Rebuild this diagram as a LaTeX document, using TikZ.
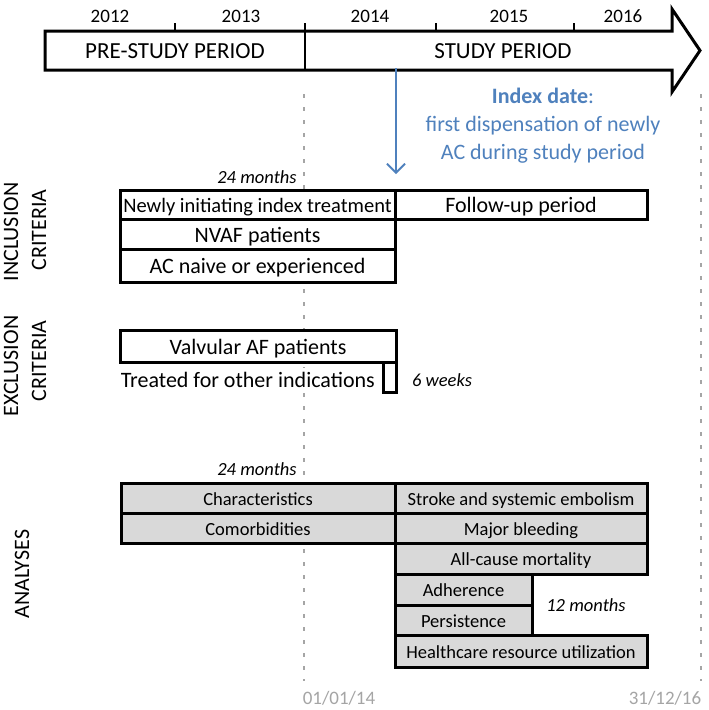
\documentclass[tikz,border=0pt]{standalone}
\usepackage{fontspec}
\setmainfont{Carlito}
\usetikzlibrary{arrows.meta}
\definecolor{idxblue}{RGB}{79,129,189}
\definecolor{boxgray}{RGB}{217,217,217}
\definecolor{dategray}{RGB}{165,165,165}
\begin{document}
\begin{tikzpicture}[x=1pt,y=-1pt,
  cell/.style={draw=black, fill=white, line width=3pt, inner sep=0pt, outer sep=0pt,
    anchor=north west, text height=17pt, text depth=1pt,
    font=\fontsize{22}{26}\selectfont},
  acell/.style={cell, fill=boxgray, text height=14.5pt, text depth=0.5pt, font=\fontsize{18.5}{22}\selectfont},
  note/.style={inner sep=1pt, font=\fontsize{18.5}{22}\selectfont\itshape},
  side/.style={rotate=90, inner sep=0pt, font=\fontsize{22}{26}\selectfont},
  datelbl/.style={text=dategray, inner sep=0pt, font=\fontsize{19}{22}\selectfont},
  guide/.style={draw=dategray, line width=2pt, dash pattern=on 4pt off 9pt},
  yearlbl/.style={inner sep=0pt, font=\fontsize{19}{22}\selectfont},
  period/.style={inner sep=0pt, text height=17pt, text depth=1pt, font=\fontsize{23}{27}\selectfont},
  tick/.style={line width=1.3pt}]
\useasboundingbox (0,0) rectangle (709,710);
\fill[white] (0,0) rectangle (709,710);

% guide lines
\coordinate (g1t) at (304,94);
\coordinate (g1b) at (304,681);
\coordinate (g2t) at (701,94);
\coordinate (g2b) at (701,681);
\draw[guide] (g1t) -- (g1b);
\draw[guide] (g2t) -- (g2b);

% timeline arrow
\draw[line width=3pt, line join=miter, fill=white]
  (45,31) -- (672,31) -- (672,9) -- (700,50.5) -- (672,92) -- (672,70) -- (45,70) -- cycle;
\draw[line width=2.2pt] (305,31) -- (305,70);
\draw[tick] (175,31) -- (175,23);
\draw[tick] (305,31) -- (305,23);
\draw[tick] (436,31) -- (436,23);
\draw[tick] (574,31) -- (574,23);
\node[yearlbl] (y12) at (110,16) {2012};
\node[yearlbl] (y13) at (241,16) {2013};
\node[yearlbl] (y14) at (370,16) {2014};
\node[yearlbl] (y15) at (509,16) {2015};
\node[yearlbl] (y16) at (623,16) {2016};
\node[period] (pre) at (175,50.5) {PRE-STUDY PERIOD};
\node[period] (study) at (503,50.5) {STUDY PERIOD};

% index date
\coordinate (ba) at (396,68);
\coordinate (bb) at (396,174);
\draw[idxblue, line width=1.8pt, -{Straight Barb[length=9pt, width=18pt, line width=1.8pt]}] (ba) -- (bb);
\node[text=idxblue, align=center, font=\fontsize{22}{28}\selectfont] (idx) at (543,125.5)
  {\textbf{Index date}:\\first dispensation of newly\\AC during study period};

% side labels
\node[side] (inc1) at (11,232) {INCLUSION};
\node[side] (inc2) at (39,230) {CRITERIA};
\node[side] (exc1) at (11,366) {EXCLUSION};
\node[side] (exc2) at (39,361) {CRITERIA};
\node[side] (ana) at (22,574) {ANALYSES};

% inclusion
\node[note] (m24a) at (257,177) {24 months};
\node[cell, minimum width=275, minimum height=29.5, font=\fontsize{20.5}{24}\selectfont] (newly) at (120,190) {Newly initiating index treatment};
\node[cell, minimum width=252, minimum height=29.5] (follow) at (395,190) {Follow-up period};
\node[cell, minimum width=275, minimum height=30] (nvaf) at (120,219.5) {NVAF patients};
\node[cell, minimum width=275, minimum height=32.5] (acn) at (120,249.5) {AC naive or experienced};

% exclusion
\node[cell, minimum width=276, minimum height=32] (valv) at (120,330) {Valvular AF patients};
\node[cell, minimum width=13, minimum height=30] (wk6) at (383,362) {};
\node[anchor=east, fill=white, inner sep=2pt, text height=17pt, text depth=1pt, font=\fontsize{22}{26}\selectfont] (treat) at (377,379) {Treated for other indications};
\node[note] (w6) at (442,380) {6 weeks};

% analyses
\node[note] (m24b) at (257,469) {24 months};
\node[acell, minimum width=274, minimum height=30] (chr) at (121,483) {Characteristics};
\node[acell, minimum width=274, minimum height=30] (com) at (121,513) {Comorbidities};
\node[acell, minimum width=252, minimum height=30] (sse) at (395,483) {Stroke and systemic embolism};
\node[acell, minimum width=252, minimum height=30] (mb) at (395,513) {Major bleeding};
\node[acell, minimum width=252, minimum height=31] (acm) at (395,543) {All-cause mortality};
\node[acell, minimum width=137, minimum height=31] (adh) at (395,574) {Adherence};
\node[acell, minimum width=137, minimum height=30] (per) at (395,605) {Persistence};
\node[acell, minimum width=252, minimum height=32] (hcr) at (395,635) {Healthcare resource utilization};
\node[note] (m12) at (586,605) {12 months};

% dates
\node[datelbl] (d1) at (339,698) {01/01/14};
\node[datelbl] (d2) at (665,698) {31/12/16};
\end{tikzpicture}
\end{document}
